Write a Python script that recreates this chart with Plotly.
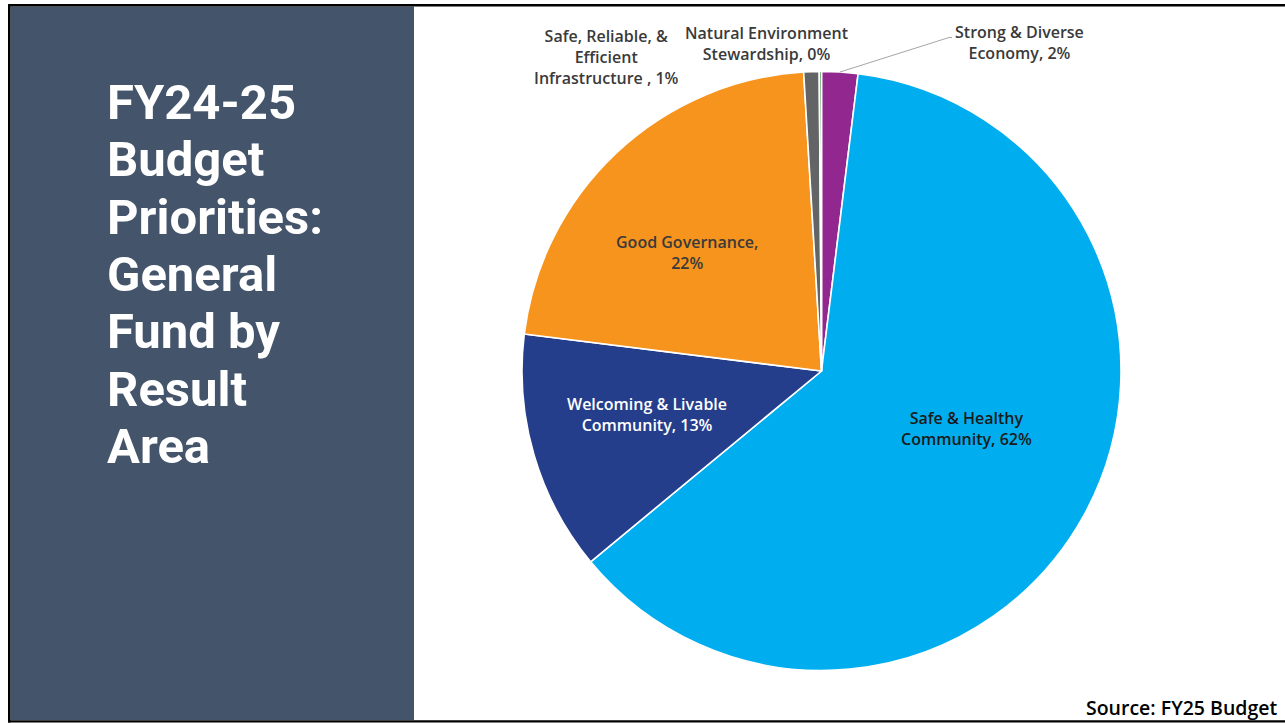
import plotly.graph_objects as go

# General Fund share by result area (percent of total), clockwise from 12 o'clock
categories = [
    "Strong & Diverse Economy",
    "Safe & Healthy Community",
    "Welcoming & Livable Community",
    "Good Governance",
    "Safe, Reliable, & Efficient Infrastructure ",
    "Natural Environment Stewardship",
]
shares = [1.95, 62.06, 12.96, 22.08, 0.83, 0.12]
slice_colors = ["#92278F", "#00AEEF", "#253E8B", "#F7941D", "#636466", "#3A8A3F"]

# How each data label is broken into lines ({p} is the rounded percent)
label_templates = [
    "Strong & Diverse<br>Economy, {p}%",
    "Safe & Healthy<br>Community, {p}%",
    "Welcoming & Livable<br>Community, {p}%",
    "Good Governance,<br>{p}%",
    "Safe, Reliable, &<br>Efficient<br>Infrastructure , {p}%",
    "Natural Environment<br>Stewardship, {p}%",
]
title_lines = ["FY24-25", "Budget", "Priorities:", "General", "Fund by", "Result", "Area"]
source_note = "Source: FY25 Budget"

W, H = 1285, 723


def px_x(v):
    return v / W


def px_y(v):
    return 1 - v / H


# pie geometry in pixels
cx, cy, r = 821.5, 371.0, 299.5

fig = go.Figure(
    go.Pie(
        labels=categories,
        values=shares,
        sort=False,
        direction="clockwise",
        rotation=0,
        marker=dict(colors=slice_colors, line=dict(color="white", width=1.6)),
        textinfo="none",
        hovertemplate="%{label}: %{percent}<extra></extra>",
        domain=dict(x=[px_x(cx - r), px_x(cx + r)], y=[px_y(cy + r), px_y(cy - r)]),
    )
)

total = sum(shares)
pcts = [round(v / total * 100) for v in shares]

# label placement (pixel centres) and colours
label_pos = [(1019, 42), (966, 428), (647, 415), (687, 253), (606, 57), (766, 43)]
label_colors = ["#3A3A3A", "#1A1A1A", "#FFFFFF", "#3A3A3A", "#3A3A3A", "#3A3A3A"]

annotations = []
for tpl, p, (lx, ly), col in zip(label_templates, pcts, label_pos, label_colors):
    annotations.append(
        dict(
            text=tpl.format(p=p),
            x=px_x(lx), y=px_y(ly), xref="paper", yref="paper",
            xanchor="center", yanchor="middle", align="center",
            showarrow=False,
            font=dict(family="Open Sans", size=16, color=col, weight=600),
        )
    )

# slide title in the side panel, one line per annotation for tight leading
for i, line in enumerate(title_lines):
    annotations.append(
        dict(
            text=line,
            x=px_x(105), y=px_y(102.5 + i * 57.3), xref="paper", yref="paper",
            xanchor="left", yanchor="middle", align="left", showarrow=False,
            font=dict(family="Roboto", size=49, color="white", weight="bold"),
        )
    )

annotations.append(
    dict(
        text=source_note,
        x=px_x(1279), y=px_y(707), xref="paper", yref="paper",
        xanchor="right", yanchor="middle", showarrow=False,
        font=dict(family="Open Sans", size=19.5, color="#000000", weight=600),
    )
)

shapes = [
    # side panel
    dict(type="rect", xref="paper", yref="paper", layer="below",
         x0=px_x(10.5), x1=px_x(414), y0=px_y(720), y1=px_y(6.5),
         fillcolor="#44546A", line=dict(width=0)),
    # slide frame
    dict(type="rect", xref="paper", yref="paper",
         x0=px_x(8), x1=1, y0=px_y(6.5), y1=px_y(4),
         fillcolor="#000000", line=dict(width=0)),
    dict(type="rect", xref="paper", yref="paper",
         x0=px_x(8), x1=px_x(10.5), y0=px_y(722.5), y1=px_y(4),
         fillcolor="#000000", line=dict(width=0)),
    dict(type="rect", xref="paper", yref="paper",
         x0=px_x(8), x1=1, y0=px_y(722.5), y1=px_y(720.3),
         fillcolor="#000000", line=dict(width=0)),
    # leader line for the small economy slice
    dict(type="path", xref="paper", yref="paper",
         path=f"M {px_x(840)} {px_y(72)} L {px_x(949)} {px_y(37.5)} L {px_x(952)} {px_y(37.5)}",
         line=dict(color="#A6A6A6", width=1)),
]

fig.update_layout(
    width=W, height=H,
    margin=dict(l=0, r=0, t=0, b=0),
    paper_bgcolor="white",
    plot_bgcolor="white",
    showlegend=False,
    annotations=annotations,
    shapes=shapes,
)

fig.write_html("out.html", config={"displayModeBar": False})
